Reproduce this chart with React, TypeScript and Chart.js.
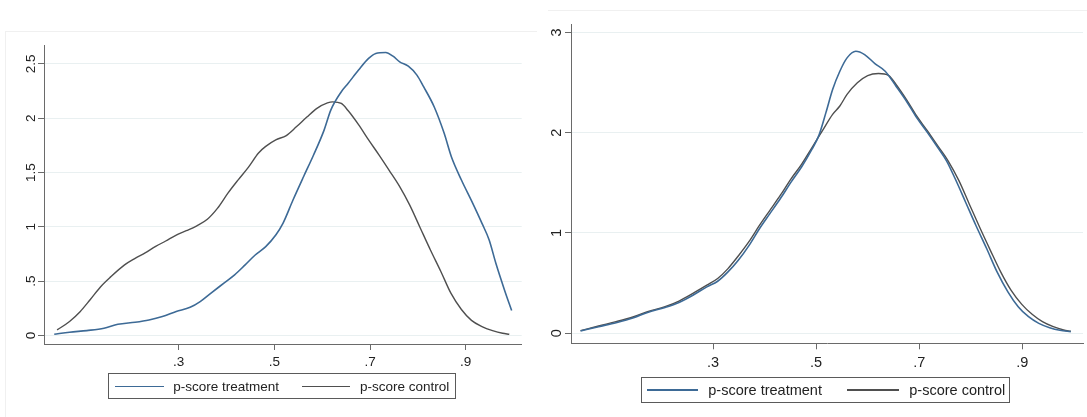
import React, { useEffect, useRef } from 'react';
import { Chart, registerables } from 'chart.js';

Chart.register(...registerables);

// ---------- data ----------
const seriesNames = ['p-score treatment', 'p-score control'];

const xTickValues = [0.3, 0.5, 0.7, 0.9];
const xTickLabels = ['.3', '.5', '.7', '.9'];

const leftYTickValues = [0, 0.5, 1, 1.5, 2, 2.5];
const leftYTickLabels = ['0', '.5', '1', '1.5', '2', '2.5'];

const rightYTickValues = [0, 1, 2, 3];
const rightYTickLabels = ['0', '1', '2', '3'];

const leftTreatmentX = [0.040, 0.072, 0.108, 0.144, 0.173, 0.209, 0.238, 0.266, 0.295, 0.324, 0.345, 0.367, 0.396, 0.417, 0.439, 0.460, 0.482, 0.503, 0.518, 0.539, 0.561, 0.582, 0.604, 0.618, 0.640, 0.654, 0.676, 0.697, 0.712, 0.733, 0.748, 0.762, 0.780, 0.798, 0.812, 0.834, 0.855, 0.870, 0.891, 0.913, 0.934, 0.949, 0.963, 0.981, 0.996];
const leftTreatmentY = [0.012, 0.031, 0.046, 0.067, 0.104, 0.123, 0.144, 0.175, 0.221, 0.260, 0.313, 0.389, 0.487, 0.558, 0.650, 0.741, 0.818, 0.925, 1.032, 1.247, 1.461, 1.661, 1.890, 2.074, 2.243, 2.319, 2.442, 2.549, 2.595, 2.604, 2.570, 2.518, 2.478, 2.396, 2.289, 2.105, 1.860, 1.645, 1.431, 1.232, 1.032, 0.879, 0.665, 0.420, 0.230];

const leftControlX = [0.046, 0.072, 0.094, 0.115, 0.137, 0.158, 0.187, 0.209, 0.230, 0.252, 0.273, 0.295, 0.316, 0.338, 0.360, 0.381, 0.403, 0.424, 0.446, 0.467, 0.482, 0.503, 0.525, 0.546, 0.568, 0.589, 0.611, 0.622, 0.640, 0.654, 0.676, 0.697, 0.719, 0.740, 0.762, 0.783, 0.805, 0.826, 0.848, 0.869, 0.891, 0.912, 0.934, 0.956, 0.977, 0.991];
const leftControlY = [0.052, 0.130, 0.220, 0.330, 0.450, 0.540, 0.650, 0.710, 0.760, 0.820, 0.870, 0.925, 0.965, 1.010, 1.070, 1.170, 1.310, 1.430, 1.550, 1.680, 1.740, 1.800, 1.840, 1.920, 2.010, 2.090, 2.140, 2.150, 2.135, 2.070, 1.940, 1.800, 1.660, 1.520, 1.370, 1.200, 0.990, 0.790, 0.590, 0.390, 0.240, 0.140, 0.083, 0.046, 0.021, 0.012];

const rightTreatmentX = [0.043, 0.078, 0.112, 0.146, 0.173, 0.207, 0.234, 0.261, 0.288, 0.309, 0.329, 0.349, 0.370, 0.390, 0.410, 0.431, 0.451, 0.472, 0.492, 0.505, 0.519, 0.532, 0.546, 0.560, 0.577, 0.594, 0.614, 0.634, 0.655, 0.675, 0.695, 0.716, 0.736, 0.753, 0.770, 0.790, 0.810, 0.831, 0.851, 0.872, 0.892, 0.912, 0.932, 0.953, 0.973, 0.994];
const rightTreatmentY = [0.023, 0.066, 0.106, 0.155, 0.208, 0.258, 0.308, 0.380, 0.463, 0.519, 0.612, 0.728, 0.877, 1.042, 1.191, 1.346, 1.505, 1.661, 1.836, 1.968, 2.200, 2.431, 2.613, 2.746, 2.812, 2.779, 2.689, 2.613, 2.464, 2.316, 2.150, 2.001, 1.852, 1.720, 1.538, 1.307, 1.075, 0.843, 0.612, 0.413, 0.265, 0.165, 0.099, 0.056, 0.030, 0.017];

const rightControlX = [0.043, 0.078, 0.112, 0.146, 0.173, 0.207, 0.234, 0.261, 0.288, 0.309, 0.329, 0.349, 0.370, 0.390, 0.410, 0.431, 0.451, 0.472, 0.492, 0.512, 0.532, 0.546, 0.560, 0.580, 0.600, 0.621, 0.641, 0.655, 0.675, 0.695, 0.716, 0.736, 0.756, 0.777, 0.797, 0.817, 0.838, 0.858, 0.878, 0.899, 0.919, 0.939, 0.960, 0.980, 0.994];
const rightControlY = [0.026, 0.073, 0.116, 0.165, 0.215, 0.265, 0.321, 0.397, 0.480, 0.546, 0.645, 0.771, 0.916, 1.075, 1.224, 1.379, 1.538, 1.687, 1.852, 2.018, 2.183, 2.266, 2.382, 2.498, 2.570, 2.590, 2.570, 2.481, 2.332, 2.167, 2.018, 1.869, 1.720, 1.522, 1.290, 1.059, 0.827, 0.612, 0.430, 0.288, 0.189, 0.116, 0.066, 0.033, 0.020];

// ---------- style ----------
const BLUE = '#3d6a96';
const GRAY = '#4f4f4f';
const AXIS = '#6a6a6a';
const GRID = '#e9f0f1';
const TEXT = '#222222';
const FONT = '"Liberation Sans", Arial, sans-serif';

type PanelSpec = {
  width: number;
  height: number;
  padding: { left: number; right: number; top: number; bottom: number };
  xMin: number;
  xMax: number;
  yMin: number;
  yMax: number;
  yTicks: number[];
  yLabels: string[];
  treatX: number[];
  treatY: number[];
  ctrlX: number[];
  ctrlY: number[];
  fontSize: number;
  xLabelBaseline: number;
  yLabelBaseline: number;
};

function labelPlugin(spec: PanelSpec) {
  return {
    id: 'stataTickLabels',
    afterDraw(chart: any) {
      const ctx = chart.ctx as CanvasRenderingContext2D;
      const xs = chart.scales.x;
      const ys = chart.scales.y;
      ctx.save();
      ctx.fillStyle = TEXT;
      ctx.font = `${spec.fontSize}px ${FONT}`;
      ctx.textAlign = 'center';
      ctx.textBaseline = 'alphabetic';
      xTickValues.forEach((v, i) => {
        ctx.fillText(xTickLabels[i], xs.getPixelForValue(v), spec.xLabelBaseline);
      });
      spec.yTicks.forEach((v, i) => {
        ctx.save();
        ctx.translate(spec.yLabelBaseline, ys.getPixelForValue(v));
        ctx.rotate(-Math.PI / 2);
        ctx.fillText(spec.yLabels[i], 0, 0);
        ctx.restore();
      });
      ctx.restore();
    },
  };
}

function buildChart(canvas: HTMLCanvasElement, spec: PanelSpec) {
  const toPoints = (xs: number[], ys: number[]) => xs.map((x, i) => ({ x, y: ys[i] }));
  return new Chart(canvas, {
    type: 'line',
    data: {
      datasets: [
        {
          label: seriesNames[0],
          data: toPoints(spec.treatX, spec.treatY),
          borderColor: BLUE,
          borderWidth: 1.6,
          pointRadius: 0,
          fill: false,
          cubicInterpolationMode: 'monotone',
        },
        {
          label: seriesNames[1],
          data: toPoints(spec.ctrlX, spec.ctrlY),
          borderColor: GRAY,
          borderWidth: 1.4,
          pointRadius: 0,
          fill: false,
          cubicInterpolationMode: 'monotone',
        },
      ],
    },
    options: {
      responsive: false,
      animation: false,
      events: [],
      layout: { padding: spec.padding },
      plugins: {
        legend: { display: false },
        tooltip: { enabled: false },
        title: { display: false },
      },
      scales: {
        x: {
          type: 'linear',
          min: spec.xMin,
          max: spec.xMax,
          afterBuildTicks: (s: any) => {
            s.ticks = xTickValues.map((v) => ({ value: v }));
          },
          afterFit: (s: any) => {
            s.height = 0;
          },
          ticks: { display: false },
          grid: {
            drawOnChartArea: false,
            drawTicks: true,
            tickLength: 6,
            tickColor: AXIS,
            tickWidth: 1,
          },
          border: { display: true, color: AXIS, width: 1 },
        },
        y: {
          type: 'linear',
          min: spec.yMin,
          max: spec.yMax,
          afterBuildTicks: (s: any) => {
            s.ticks = spec.yTicks.map((v) => ({ value: v }));
          },
          afterFit: (s: any) => {
            s.width = 0;
          },
          ticks: { display: false },
          grid: {
            color: GRID,
            lineWidth: 1,
            drawTicks: true,
            tickLength: 6,
            tickColor: AXIS,
            tickWidth: 1,
          },
          border: { display: true, color: AXIS, width: 1 },
        },
      },
    } as any,
    plugins: [labelPlugin(spec)],
  });
}

const LEFT_W = 543;
const RIGHT_W = 544;
const H = 417;

const leftSpec: PanelSpec = {
  width: LEFT_W,
  height: H,
  padding: { left: 44, right: LEFT_W - 521.7, top: 45, bottom: H - 344 },
  xMin: 0.0186,
  xMax: 1.017,
  yMin: -0.0774,
  yMax: 2.6728,
  yTicks: leftYTickValues,
  yLabels: leftYTickLabels,
  treatX: leftTreatmentX,
  treatY: leftTreatmentY,
  ctrlX: leftControlX,
  ctrlY: leftControlY,
  fontSize: 13.5,
  xLabelBaseline: 366,
  yLabelBaseline: 35,
};

const rightSpec: PanelSpec = {
  width: RIGHT_W,
  height: H,
  padding: { left: 28, right: RIGHT_W - 540, top: 24, bottom: H - 343.3 },
  xMin: 0.0245,
  xMax: 1.0177,
  yMin: -0.0998,
  yMax: 3.0838,
  yTicks: rightYTickValues,
  yLabels: rightYTickLabels,
  treatX: rightTreatmentX,
  treatY: rightTreatmentY,
  ctrlX: rightControlX,
  ctrlY: rightControlY,
  fontSize: 14.5,
  xLabelBaseline: 366.5,
  yLabelBaseline: 18,
};

function Panel({ spec, left }: { spec: PanelSpec; left: number }) {
  const ref = useRef<HTMLCanvasElement | null>(null);
  useEffect(() => {
    if (!ref.current) return;
    const chart = buildChart(ref.current, spec);
    return () => chart.destroy();
  }, [spec]);
  return (
    <canvas
      ref={ref}
      width={spec.width}
      height={spec.height}
      style={{ position: 'absolute', left, top: 0, width: spec.width, height: spec.height }}
    />
  );
}

type LegendSpec = {
  box: { x: number; y: number; w: number; h: number };
  lineY: number;
  fontSize: number;
  items: { lineX1: number; lineX2: number; textX: number; color: string; label: string }[];
};

const leftLegend: LegendSpec = {
  box: { x: 108, y: 373, w: 348, h: 26 },
  lineY: 386.5,
  fontSize: 13.5,
  items: [
    { lineX1: 115, lineX2: 163.5, textX: 173.3, color: BLUE, label: seriesNames[0] },
    { lineX1: 301.7, lineX2: 350, textX: 360, color: GRAY, label: seriesNames[1] },
  ],
};

const rightLegend: LegendSpec = {
  box: { x: 640.5, y: 376.5, w: 369.5, h: 26 },
  lineY: 390,
  fontSize: 14.5,
  items: [
    { lineX1: 646.7, lineX2: 698.3, textX: 708.3, color: BLUE, label: seriesNames[0] },
    { lineX1: 846.7, lineX2: 899.3, textX: 909.3, color: GRAY, label: seriesNames[1] },
  ],
};

function Legend({ spec }: { spec: LegendSpec }) {
  return (
    <>
      <div
        style={{
          position: 'absolute',
          left: spec.box.x,
          top: spec.box.y,
          width: spec.box.w,
          height: spec.box.h,
          border: '1px solid #5a5a5a',
          boxSizing: 'border-box',
          background: '#ffffff',
        }}
      />
      {spec.items.map((it) => (
        <React.Fragment key={it.label}>
          <div
            style={{
              position: 'absolute',
              left: it.lineX1,
              top: spec.lineY - 1,
              width: it.lineX2 - it.lineX1,
              height: 1.5,
              background: it.color,
            }}
          />
          <div
            style={{
              position: 'absolute',
              left: it.textX,
              top: spec.lineY - 10,
              height: 20,
              display: 'flex',
              alignItems: 'center',
              fontFamily: FONT,
              fontSize: spec.fontSize,
              color: TEXT,
              whiteSpace: 'nowrap',
              lineHeight: 1,
            }}
          >
            {it.label}
          </div>
        </React.Fragment>
      ))}
    </>
  );
}

export default function App() {
  return (
    <div
      style={{
        position: 'absolute',
        left: 0,
        top: 0,
        width: 1087,
        height: 417,
        background: '#ffffff',
        overflow: 'hidden',
      }}
    >
      <div
        style={{
          position: 'absolute',
          left: 5,
          top: 31,
          width: 531,
          height: 400,
          borderTop: '1px solid #f0f0f0',
          borderLeft: '1px solid #f0f0f0',
        }}
      />
      <div
        style={{
          position: 'absolute',
          left: 548,
          top: 10,
          width: 539,
          height: 1,
          borderTop: '1px solid #f0f0f0',
        }}
      />
      <Panel spec={leftSpec} left={0} />
      <Panel spec={rightSpec} left={LEFT_W} />
      <Legend spec={leftLegend} />
      <Legend spec={rightLegend} />
    </div>
  );
}
